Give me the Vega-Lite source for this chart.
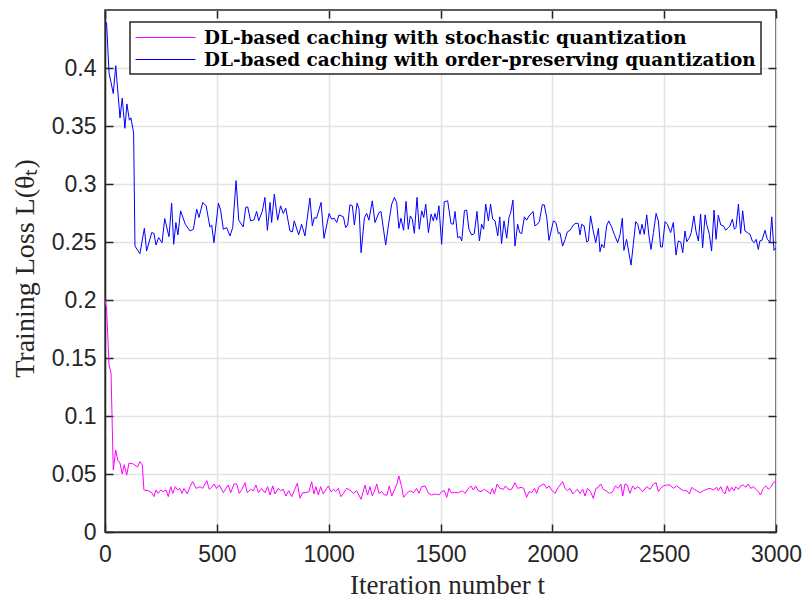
{
  "$schema": "https://vega.github.io/schema/vega-lite/v6.json",
  "width": 671,
  "height": 522,
  "autosize": {"type": "none"},
  "padding": {"left": 105, "top": 10, "right": 28, "bottom": 68},
  "background": "white",
  "config": {
    "view": {"stroke": "#262626", "strokeWidth": 1.5},
    "axis": {
      "labelFont": "Liberation Sans",
      "labelFontSize": 23,
      "labelColor": "#262626",
      "labelFlush": false,
      "titleFont": "Liberation Serif",
      "titleFontSize": 28,
      "titleFontWeight": "normal",
      "titleColor": "#262626",
      "domainColor": "#262626",
      "domainWidth": 1.5,
      "tickColor": "#262626",
      "tickWidth": 1.5,
      "tickSize": -8,
      "gridColor": "#e3e3e3",
      "gridWidth": 1.5,
      "gridOpacity": 1
    }
  },
  "datasets": {
    "stochastic": [
      {"iteration": 0, "loss": 0.2}, {"iteration": 7, "loss": 0.193}, {"iteration": 18, "loss": 0.144}, {"iteration": 27, "loss": 0.137},
      {"iteration": 37, "loss": 0.0534}, {"iteration": 48, "loss": 0.0707}, {"iteration": 57, "loss": 0.062}, {"iteration": 67, "loss": 0.0594},
      {"iteration": 77, "loss": 0.05}, {"iteration": 86, "loss": 0.058}, {"iteration": 97, "loss": 0.049}, {"iteration": 107, "loss": 0.0594},
      {"iteration": 127, "loss": 0.0586}, {"iteration": 146, "loss": 0.056}, {"iteration": 156, "loss": 0.0606}, {"iteration": 167, "loss": 0.0578},
      {"iteration": 174, "loss": 0.0362}, {"iteration": 194, "loss": 0.0356}, {"iteration": 209, "loss": 0.0339}, {"iteration": 219, "loss": 0.0305},
      {"iteration": 228, "loss": 0.0362}, {"iteration": 238, "loss": 0.0333}, {"iteration": 249, "loss": 0.0362}, {"iteration": 261, "loss": 0.0348},
      {"iteration": 273, "loss": 0.0362}, {"iteration": 283, "loss": 0.0305}, {"iteration": 294, "loss": 0.0391}, {"iteration": 303, "loss": 0.0333},
      {"iteration": 314, "loss": 0.0391}, {"iteration": 325, "loss": 0.0362}, {"iteration": 335, "loss": 0.0376}, {"iteration": 344, "loss": 0.0333},
      {"iteration": 353, "loss": 0.0376}, {"iteration": 368, "loss": 0.0328}, {"iteration": 380, "loss": 0.0391}, {"iteration": 392, "loss": 0.0434},
      {"iteration": 407, "loss": 0.0376}, {"iteration": 425, "loss": 0.0391}, {"iteration": 437, "loss": 0.0376}, {"iteration": 455, "loss": 0.0443},
      {"iteration": 466, "loss": 0.0368}, {"iteration": 477, "loss": 0.0385}, {"iteration": 487, "loss": 0.0414}, {"iteration": 499, "loss": 0.0376},
      {"iteration": 511, "loss": 0.0405}, {"iteration": 529, "loss": 0.0339}, {"iteration": 541, "loss": 0.0376}, {"iteration": 551, "loss": 0.0405},
      {"iteration": 562, "loss": 0.0339}, {"iteration": 577, "loss": 0.0414}, {"iteration": 589, "loss": 0.0414}, {"iteration": 600, "loss": 0.0333},
      {"iteration": 612, "loss": 0.0368}, {"iteration": 626, "loss": 0.0425}, {"iteration": 636, "loss": 0.0339}, {"iteration": 651, "loss": 0.0368},
      {"iteration": 663, "loss": 0.0356}, {"iteration": 675, "loss": 0.0405}, {"iteration": 686, "loss": 0.0339}, {"iteration": 700, "loss": 0.0376},
      {"iteration": 715, "loss": 0.0339}, {"iteration": 727, "loss": 0.0391}, {"iteration": 738, "loss": 0.0319}, {"iteration": 750, "loss": 0.0397},
      {"iteration": 760, "loss": 0.0328}, {"iteration": 775, "loss": 0.0376}, {"iteration": 785, "loss": 0.0356}, {"iteration": 797, "loss": 0.0368},
      {"iteration": 809, "loss": 0.031}, {"iteration": 821, "loss": 0.0356}, {"iteration": 835, "loss": 0.0305}, {"iteration": 846, "loss": 0.0356},
      {"iteration": 860, "loss": 0.042}, {"iteration": 872, "loss": 0.0291}, {"iteration": 884, "loss": 0.0339}, {"iteration": 899, "loss": 0.0339},
      {"iteration": 912, "loss": 0.0348}, {"iteration": 924, "loss": 0.0434}, {"iteration": 934, "loss": 0.0328}, {"iteration": 943, "loss": 0.0391},
      {"iteration": 954, "loss": 0.0319}, {"iteration": 964, "loss": 0.0391}, {"iteration": 976, "loss": 0.0328}, {"iteration": 991, "loss": 0.0376},
      {"iteration": 999, "loss": 0.0397}, {"iteration": 1010, "loss": 0.0348}, {"iteration": 1021, "loss": 0.0368}, {"iteration": 1031, "loss": 0.0348},
      {"iteration": 1043, "loss": 0.0376}, {"iteration": 1055, "loss": 0.0305}, {"iteration": 1066, "loss": 0.0333}, {"iteration": 1080, "loss": 0.0376},
      {"iteration": 1095, "loss": 0.0362}, {"iteration": 1110, "loss": 0.0333}, {"iteration": 1125, "loss": 0.0356}, {"iteration": 1145, "loss": 0.0282},
      {"iteration": 1162, "loss": 0.0405}, {"iteration": 1174, "loss": 0.0319}, {"iteration": 1185, "loss": 0.0391}, {"iteration": 1195, "loss": 0.031},
      {"iteration": 1204, "loss": 0.0348}, {"iteration": 1215, "loss": 0.0414}, {"iteration": 1225, "loss": 0.0333}, {"iteration": 1237, "loss": 0.0348},
      {"iteration": 1249, "loss": 0.0319}, {"iteration": 1261, "loss": 0.0319}, {"iteration": 1271, "loss": 0.0397}, {"iteration": 1282, "loss": 0.031},
      {"iteration": 1297, "loss": 0.0376}, {"iteration": 1306, "loss": 0.042}, {"iteration": 1314, "loss": 0.0483}, {"iteration": 1326, "loss": 0.0391},
      {"iteration": 1335, "loss": 0.0299}, {"iteration": 1349, "loss": 0.0333}, {"iteration": 1364, "loss": 0.0356}, {"iteration": 1379, "loss": 0.0339},
      {"iteration": 1393, "loss": 0.0376}, {"iteration": 1404, "loss": 0.0333}, {"iteration": 1416, "loss": 0.0391}, {"iteration": 1431, "loss": 0.0397},
      {"iteration": 1446, "loss": 0.0333}, {"iteration": 1460, "loss": 0.0319}, {"iteration": 1478, "loss": 0.0328}, {"iteration": 1493, "loss": 0.0319},
      {"iteration": 1505, "loss": 0.0348}, {"iteration": 1517, "loss": 0.0356}, {"iteration": 1528, "loss": 0.0299}, {"iteration": 1538, "loss": 0.0376},
      {"iteration": 1547, "loss": 0.0339}, {"iteration": 1562, "loss": 0.0339}, {"iteration": 1580, "loss": 0.0339}, {"iteration": 1598, "loss": 0.0356},
      {"iteration": 1610, "loss": 0.0333}, {"iteration": 1624, "loss": 0.0376}, {"iteration": 1636, "loss": 0.0397}, {"iteration": 1647, "loss": 0.0362},
      {"iteration": 1657, "loss": 0.0397}, {"iteration": 1669, "loss": 0.0356}, {"iteration": 1681, "loss": 0.0348}, {"iteration": 1696, "loss": 0.0368},
      {"iteration": 1711, "loss": 0.0348}, {"iteration": 1723, "loss": 0.0328}, {"iteration": 1732, "loss": 0.0376}, {"iteration": 1741, "loss": 0.0328},
      {"iteration": 1753, "loss": 0.0414}, {"iteration": 1766, "loss": 0.0376}, {"iteration": 1781, "loss": 0.0368}, {"iteration": 1791, "loss": 0.0397},
      {"iteration": 1803, "loss": 0.0368}, {"iteration": 1818, "loss": 0.0368}, {"iteration": 1833, "loss": 0.0425}, {"iteration": 1845, "loss": 0.0376},
      {"iteration": 1860, "loss": 0.0385}, {"iteration": 1872, "loss": 0.0376}, {"iteration": 1885, "loss": 0.0299}, {"iteration": 1896, "loss": 0.0348},
      {"iteration": 1908, "loss": 0.0339}, {"iteration": 1920, "loss": 0.0376}, {"iteration": 1930, "loss": 0.0333}, {"iteration": 1940, "loss": 0.0391},
      {"iteration": 1952, "loss": 0.0405}, {"iteration": 1963, "loss": 0.0414}, {"iteration": 1975, "loss": 0.0376}, {"iteration": 1985, "loss": 0.0397},
      {"iteration": 1997, "loss": 0.0362}, {"iteration": 2012, "loss": 0.0333}, {"iteration": 2027, "loss": 0.0385}, {"iteration": 2046, "loss": 0.0434},
      {"iteration": 2057, "loss": 0.0376}, {"iteration": 2067, "loss": 0.0356}, {"iteration": 2079, "loss": 0.0376}, {"iteration": 2091, "loss": 0.0328},
      {"iteration": 2101, "loss": 0.0348}, {"iteration": 2112, "loss": 0.0368}, {"iteration": 2124, "loss": 0.0333}, {"iteration": 2136, "loss": 0.0368},
      {"iteration": 2146, "loss": 0.031}, {"iteration": 2157, "loss": 0.0376}, {"iteration": 2171, "loss": 0.0348}, {"iteration": 2183, "loss": 0.029},
      {"iteration": 2195, "loss": 0.0376}, {"iteration": 2206, "loss": 0.0385}, {"iteration": 2216, "loss": 0.0414}, {"iteration": 2228, "loss": 0.0368},
      {"iteration": 2240, "loss": 0.0356}, {"iteration": 2255, "loss": 0.0333}, {"iteration": 2270, "loss": 0.0348}, {"iteration": 2282, "loss": 0.0397},
      {"iteration": 2295, "loss": 0.0376}, {"iteration": 2306, "loss": 0.0414}, {"iteration": 2315, "loss": 0.031}, {"iteration": 2325, "loss": 0.0414},
      {"iteration": 2335, "loss": 0.0405}, {"iteration": 2347, "loss": 0.0333}, {"iteration": 2359, "loss": 0.0397}, {"iteration": 2370, "loss": 0.0368},
      {"iteration": 2380, "loss": 0.0391}, {"iteration": 2392, "loss": 0.0376}, {"iteration": 2404, "loss": 0.0348}, {"iteration": 2422, "loss": 0.0391},
      {"iteration": 2437, "loss": 0.0368}, {"iteration": 2452, "loss": 0.0414}, {"iteration": 2464, "loss": 0.0425}, {"iteration": 2474, "loss": 0.0348},
      {"iteration": 2484, "loss": 0.0376}, {"iteration": 2496, "loss": 0.0397}, {"iteration": 2511, "loss": 0.0405}, {"iteration": 2526, "loss": 0.0405},
      {"iteration": 2541, "loss": 0.0376}, {"iteration": 2556, "loss": 0.0397}, {"iteration": 2571, "loss": 0.0376}, {"iteration": 2586, "loss": 0.0356},
      {"iteration": 2601, "loss": 0.0356}, {"iteration": 2613, "loss": 0.0328}, {"iteration": 2623, "loss": 0.0385}, {"iteration": 2633, "loss": 0.0368},
      {"iteration": 2645, "loss": 0.0356}, {"iteration": 2660, "loss": 0.0339}, {"iteration": 2675, "loss": 0.0356}, {"iteration": 2690, "loss": 0.0368},
      {"iteration": 2705, "loss": 0.0376}, {"iteration": 2720, "loss": 0.0362}, {"iteration": 2735, "loss": 0.0385}, {"iteration": 2742, "loss": 0.0356},
      {"iteration": 2753, "loss": 0.0391}, {"iteration": 2762, "loss": 0.0348}, {"iteration": 2772, "loss": 0.0328}, {"iteration": 2782, "loss": 0.0397},
      {"iteration": 2791, "loss": 0.0348}, {"iteration": 2802, "loss": 0.0385}, {"iteration": 2812, "loss": 0.0356}, {"iteration": 2821, "loss": 0.0391},
      {"iteration": 2832, "loss": 0.0368}, {"iteration": 2842, "loss": 0.0397}, {"iteration": 2854, "loss": 0.0405}, {"iteration": 2866, "loss": 0.0385},
      {"iteration": 2876, "loss": 0.0414}, {"iteration": 2887, "loss": 0.0376}, {"iteration": 2899, "loss": 0.0391}, {"iteration": 2911, "loss": 0.0368},
      {"iteration": 2921, "loss": 0.0348}, {"iteration": 2931, "loss": 0.0319}, {"iteration": 2943, "loss": 0.0376}, {"iteration": 2955, "loss": 0.0397},
      {"iteration": 2966, "loss": 0.0368}, {"iteration": 2976, "loss": 0.0385}, {"iteration": 2988, "loss": 0.0425}, {"iteration": 2996, "loss": 0.0434},
      {"iteration": 3000, "loss": 0.044}
    ],
    "orderPreserving": [
      {"iteration": 0, "loss": 0.44}, {"iteration": 7, "loss": 0.439}, {"iteration": 18, "loss": 0.396}, {"iteration": 37, "loss": 0.378},
      {"iteration": 48, "loss": 0.402}, {"iteration": 67, "loss": 0.357}, {"iteration": 77, "loss": 0.374}, {"iteration": 89, "loss": 0.348},
      {"iteration": 98, "loss": 0.369}, {"iteration": 109, "loss": 0.355}, {"iteration": 116, "loss": 0.357}, {"iteration": 128, "loss": 0.344},
      {"iteration": 134, "loss": 0.2465}, {"iteration": 156, "loss": 0.2399}, {"iteration": 176, "loss": 0.2618}, {"iteration": 186, "loss": 0.2422},
      {"iteration": 209, "loss": 0.2581}, {"iteration": 219, "loss": 0.2575}, {"iteration": 228, "loss": 0.2474}, {"iteration": 240, "loss": 0.2538},
      {"iteration": 255, "loss": 0.2494}, {"iteration": 267, "loss": 0.2702}, {"iteration": 286, "loss": 0.2546}, {"iteration": 298, "loss": 0.2835},
      {"iteration": 307, "loss": 0.248}, {"iteration": 317, "loss": 0.2668}, {"iteration": 326, "loss": 0.2561}, {"iteration": 338, "loss": 0.2769},
      {"iteration": 359, "loss": 0.2653}, {"iteration": 380, "loss": 0.2595}, {"iteration": 395, "loss": 0.261}, {"iteration": 410, "loss": 0.2783},
      {"iteration": 420, "loss": 0.2711}, {"iteration": 437, "loss": 0.2841}, {"iteration": 452, "loss": 0.2812}, {"iteration": 469, "loss": 0.263},
      {"iteration": 477, "loss": 0.2645}, {"iteration": 487, "loss": 0.2494}, {"iteration": 507, "loss": 0.2835}, {"iteration": 517, "loss": 0.2775},
      {"iteration": 529, "loss": 0.261}, {"iteration": 544, "loss": 0.2624}, {"iteration": 559, "loss": 0.2552}, {"iteration": 571, "loss": 0.2624},
      {"iteration": 586, "loss": 0.3029}, {"iteration": 598, "loss": 0.2688}, {"iteration": 618, "loss": 0.263}, {"iteration": 629, "loss": 0.2798},
      {"iteration": 638, "loss": 0.2803}, {"iteration": 651, "loss": 0.2682}, {"iteration": 666, "loss": 0.2691}, {"iteration": 678, "loss": 0.2763},
      {"iteration": 687, "loss": 0.2682}, {"iteration": 703, "loss": 0.2763}, {"iteration": 715, "loss": 0.2884}, {"iteration": 726, "loss": 0.2601},
      {"iteration": 738, "loss": 0.2841}, {"iteration": 745, "loss": 0.2668}, {"iteration": 757, "loss": 0.2913}, {"iteration": 772, "loss": 0.2688},
      {"iteration": 785, "loss": 0.2812}, {"iteration": 797, "loss": 0.2746}, {"iteration": 808, "loss": 0.2792}, {"iteration": 827, "loss": 0.2595},
      {"iteration": 838, "loss": 0.2587}, {"iteration": 846, "loss": 0.2682}, {"iteration": 866, "loss": 0.2561}, {"iteration": 879, "loss": 0.2653},
      {"iteration": 894, "loss": 0.2552}, {"iteration": 916, "loss": 0.2879}, {"iteration": 927, "loss": 0.2639}, {"iteration": 936, "loss": 0.2711},
      {"iteration": 946, "loss": 0.2705}, {"iteration": 966, "loss": 0.2841}, {"iteration": 979, "loss": 0.2532}, {"iteration": 1002, "loss": 0.2746},
      {"iteration": 1013, "loss": 0.2697}, {"iteration": 1025, "loss": 0.2705}, {"iteration": 1036, "loss": 0.2668}, {"iteration": 1046, "loss": 0.2734},
      {"iteration": 1066, "loss": 0.2717}, {"iteration": 1076, "loss": 0.2624}, {"iteration": 1085, "loss": 0.2647}, {"iteration": 1095, "loss": 0.2821},
      {"iteration": 1106, "loss": 0.2812}, {"iteration": 1115, "loss": 0.2647}, {"iteration": 1127, "loss": 0.2835}, {"iteration": 1136, "loss": 0.2783},
      {"iteration": 1145, "loss": 0.2408}, {"iteration": 1160, "loss": 0.2711}, {"iteration": 1170, "loss": 0.2746}, {"iteration": 1180, "loss": 0.2688},
      {"iteration": 1195, "loss": 0.2855}, {"iteration": 1207, "loss": 0.2668}, {"iteration": 1225, "loss": 0.2754}, {"iteration": 1234, "loss": 0.2763},
      {"iteration": 1255, "loss": 0.2474}, {"iteration": 1270, "loss": 0.2682}, {"iteration": 1282, "loss": 0.2827}, {"iteration": 1294, "loss": 0.2884},
      {"iteration": 1304, "loss": 0.2841}, {"iteration": 1314, "loss": 0.2618}, {"iteration": 1323, "loss": 0.2705}, {"iteration": 1335, "loss": 0.2601},
      {"iteration": 1346, "loss": 0.285}, {"iteration": 1356, "loss": 0.261}, {"iteration": 1365, "loss": 0.2725}, {"iteration": 1374, "loss": 0.2697},
      {"iteration": 1383, "loss": 0.2575}, {"iteration": 1395, "loss": 0.2884}, {"iteration": 1405, "loss": 0.261}, {"iteration": 1416, "loss": 0.2769},
      {"iteration": 1425, "loss": 0.2711}, {"iteration": 1434, "loss": 0.2827}, {"iteration": 1446, "loss": 0.2581}, {"iteration": 1458, "loss": 0.274},
      {"iteration": 1468, "loss": 0.2682}, {"iteration": 1475, "loss": 0.2746}, {"iteration": 1483, "loss": 0.2688}, {"iteration": 1493, "loss": 0.2812},
      {"iteration": 1505, "loss": 0.248}, {"iteration": 1517, "loss": 0.2847}, {"iteration": 1532, "loss": 0.2855}, {"iteration": 1547, "loss": 0.2659},
      {"iteration": 1557, "loss": 0.2653}, {"iteration": 1565, "loss": 0.2763}, {"iteration": 1577, "loss": 0.2538}, {"iteration": 1587, "loss": 0.2546},
      {"iteration": 1595, "loss": 0.2509}, {"iteration": 1607, "loss": 0.2769}, {"iteration": 1617, "loss": 0.2775}, {"iteration": 1627, "loss": 0.261},
      {"iteration": 1639, "loss": 0.2561}, {"iteration": 1651, "loss": 0.2572}, {"iteration": 1663, "loss": 0.2763}, {"iteration": 1674, "loss": 0.2509},
      {"iteration": 1684, "loss": 0.2653}, {"iteration": 1693, "loss": 0.261}, {"iteration": 1702, "loss": 0.2827}, {"iteration": 1714, "loss": 0.2682},
      {"iteration": 1724, "loss": 0.2827}, {"iteration": 1733, "loss": 0.2697}, {"iteration": 1744, "loss": 0.2682}, {"iteration": 1756, "loss": 0.2552},
      {"iteration": 1765, "loss": 0.2717}, {"iteration": 1773, "loss": 0.2486}, {"iteration": 1784, "loss": 0.2682}, {"iteration": 1796, "loss": 0.2532},
      {"iteration": 1806, "loss": 0.2711}, {"iteration": 1814, "loss": 0.2754}, {"iteration": 1824, "loss": 0.2861}, {"iteration": 1833, "loss": 0.2465},
      {"iteration": 1845, "loss": 0.2653}, {"iteration": 1854, "loss": 0.2581}, {"iteration": 1863, "loss": 0.2572}, {"iteration": 1875, "loss": 0.2717},
      {"iteration": 1885, "loss": 0.2688}, {"iteration": 1896, "loss": 0.2725}, {"iteration": 1914, "loss": 0.2763}, {"iteration": 1922, "loss": 0.2639},
      {"iteration": 1933, "loss": 0.2653}, {"iteration": 1942, "loss": 0.2676}, {"iteration": 1955, "loss": 0.2821}, {"iteration": 1964, "loss": 0.2821},
      {"iteration": 1975, "loss": 0.2711}, {"iteration": 1985, "loss": 0.2514}, {"iteration": 2005, "loss": 0.2682}, {"iteration": 2016, "loss": 0.2668},
      {"iteration": 2027, "loss": 0.2572}, {"iteration": 2034, "loss": 0.2581}, {"iteration": 2046, "loss": 0.2465}, {"iteration": 2057, "loss": 0.2523},
      {"iteration": 2067, "loss": 0.2587}, {"iteration": 2079, "loss": 0.2601}, {"iteration": 2094, "loss": 0.2647}, {"iteration": 2106, "loss": 0.2662},
      {"iteration": 2116, "loss": 0.2659}, {"iteration": 2124, "loss": 0.2561}, {"iteration": 2131, "loss": 0.2653}, {"iteration": 2142, "loss": 0.2639},
      {"iteration": 2154, "loss": 0.25}, {"iteration": 2161, "loss": 0.2509}, {"iteration": 2171, "loss": 0.2725}, {"iteration": 2183, "loss": 0.2595},
      {"iteration": 2194, "loss": 0.2494}, {"iteration": 2206, "loss": 0.2618}, {"iteration": 2213, "loss": 0.2416}, {"iteration": 2221, "loss": 0.248},
      {"iteration": 2231, "loss": 0.2451}, {"iteration": 2243, "loss": 0.2639}, {"iteration": 2252, "loss": 0.2682}, {"iteration": 2265, "loss": 0.263},
      {"iteration": 2277, "loss": 0.2566}, {"iteration": 2292, "loss": 0.2494}, {"iteration": 2303, "loss": 0.2566}, {"iteration": 2313, "loss": 0.2705},
      {"iteration": 2320, "loss": 0.2428}, {"iteration": 2332, "loss": 0.2523}, {"iteration": 2341, "loss": 0.2422}, {"iteration": 2352, "loss": 0.2301},
      {"iteration": 2362, "loss": 0.248}, {"iteration": 2373, "loss": 0.2676}, {"iteration": 2382, "loss": 0.2653}, {"iteration": 2392, "loss": 0.2566},
      {"iteration": 2401, "loss": 0.2653}, {"iteration": 2411, "loss": 0.2566}, {"iteration": 2422, "loss": 0.2734}, {"iteration": 2432, "loss": 0.2552},
      {"iteration": 2441, "loss": 0.2436}, {"iteration": 2452, "loss": 0.2581}, {"iteration": 2464, "loss": 0.2746}, {"iteration": 2474, "loss": 0.2682},
      {"iteration": 2484, "loss": 0.2457}, {"iteration": 2492, "loss": 0.2457}, {"iteration": 2504, "loss": 0.2676}, {"iteration": 2514, "loss": 0.2653},
      {"iteration": 2529, "loss": 0.2581}, {"iteration": 2541, "loss": 0.2668}, {"iteration": 2553, "loss": 0.2387}, {"iteration": 2563, "loss": 0.2509},
      {"iteration": 2574, "loss": 0.25}, {"iteration": 2583, "loss": 0.2408}, {"iteration": 2593, "loss": 0.2595}, {"iteration": 2601, "loss": 0.2503},
      {"iteration": 2613, "loss": 0.2538}, {"iteration": 2621, "loss": 0.2581}, {"iteration": 2633, "loss": 0.2725}, {"iteration": 2642, "loss": 0.2595},
      {"iteration": 2653, "loss": 0.2509}, {"iteration": 2663, "loss": 0.274}, {"iteration": 2672, "loss": 0.2451}, {"iteration": 2683, "loss": 0.2734},
      {"iteration": 2690, "loss": 0.2653}, {"iteration": 2702, "loss": 0.2566}, {"iteration": 2712, "loss": 0.2422}, {"iteration": 2723, "loss": 0.2775},
      {"iteration": 2732, "loss": 0.2523}, {"iteration": 2742, "loss": 0.2731}, {"iteration": 2753, "loss": 0.2647}, {"iteration": 2765, "loss": 0.2639},
      {"iteration": 2775, "loss": 0.2601}, {"iteration": 2787, "loss": 0.2624}, {"iteration": 2794, "loss": 0.2639}, {"iteration": 2805, "loss": 0.2697},
      {"iteration": 2814, "loss": 0.261}, {"iteration": 2821, "loss": 0.2624}, {"iteration": 2832, "loss": 0.2827}, {"iteration": 2842, "loss": 0.2572},
      {"iteration": 2851, "loss": 0.2769}, {"iteration": 2861, "loss": 0.2595}, {"iteration": 2872, "loss": 0.2581}, {"iteration": 2884, "loss": 0.2566},
      {"iteration": 2894, "loss": 0.2509}, {"iteration": 2902, "loss": 0.2494}, {"iteration": 2911, "loss": 0.2523}, {"iteration": 2921, "loss": 0.2436},
      {"iteration": 2928, "loss": 0.2509}, {"iteration": 2937, "loss": 0.2514}, {"iteration": 2951, "loss": 0.2601}, {"iteration": 2961, "loss": 0.2523},
      {"iteration": 2973, "loss": 0.25}, {"iteration": 2981, "loss": 0.2717}, {"iteration": 2991, "loss": 0.2428}, {"iteration": 3000, "loss": 0.245}
    ]
  },
  "layer": [
    {
      "data": {"name": "stochastic"},
      "mark": {"type": "line", "strokeWidth": 1, "clip": true},
      "encoding": {
        "x": {
          "field": "iteration", "type": "quantitative",
          "scale": {"domain": [0, 3000], "nice": false, "zero": false},
          "axis": {
            "values": [0, 500, 1000, 1500, 2000, 2500, 3000],
            "format": "d",
            "labelPadding": 19,
            "grid": true,
            "title": "Iteration number t",
            "titleFontSize": 27,
            "titleBaseline": "alphabetic",
            "titleX": 342,
            "titleY": 61,
            "titleAnchor": "middle"
          }
        },
        "y": {
          "field": "loss", "type": "quantitative",
          "scale": {"domain": [0, 0.45], "nice": false, "zero": false},
          "axis": {
            "values": [0, 0.05, 0.1, 0.15, 0.2, 0.25, 0.3, 0.35, 0.4],
            "format": "~g",
            "labelPadding": 17,
            "grid": true,
            "title": "Training Loss L(θₜ)",
            "titleBaseline": "alphabetic",
            "titleX": -72,
            "titleY": 258,
            "titleAngle": -90
          }
        },
        "color": {
          "datum": "DL-based caching with stochastic quantization",
          "type": "nominal",
          "scale": {
            "domain": ["DL-based caching with stochastic quantization", "DL-based caching with order-preserving quantization"],
            "range": ["#FF00FF", "#0000FF"]
          },
          "legend": {
            "orient": "none",
            "legendX": 25,
            "legendY": 12,
            "title": null,
            "strokeColor": "#262626",
            "fillColor": "white",
            "padding": 5,
            "symbolType": "M-3,0H3",
            "symbolSize": 400,
            "symbolStrokeWidth": 1,
            "symbolOffset": 20,
            "labelFont": "DejaVu Serif",
            "labelFontWeight": "bold",
            "labelFontSize": 18.4,
            "labelColor": "black",
            "labelLimit": 0,
            "rowPadding": 2,
            "labelOffset": 28,
            "encode": {"legend": {"update": {"strokeWidth": {"value": 1.5}}}}
          }
        }
      }
    },
    {
      "data": {"name": "orderPreserving"},
      "mark": {"type": "line", "strokeWidth": 1, "clip": true},
      "encoding": {
        "x": {"field": "iteration", "type": "quantitative", "axis": null},
        "y": {"field": "loss", "type": "quantitative", "axis": null},
        "color": {"datum": "DL-based caching with order-preserving quantization", "type": "nominal"}
      }
    },
    {
      "data": {"name": "orderPreserving"},
      "mark": {"type": "line", "strokeOpacity": 0},
      "encoding": {
        "x": {
          "field": "iteration", "type": "quantitative",
          "axis": {"orient": "top", "values": [0, 500, 1000, 1500, 2000, 2500, 3000], "labels": false, "grid": false, "domain": false, "title": null}
        },
        "y": {
          "field": "loss", "type": "quantitative",
          "axis": {"orient": "right", "values": [0, 0.05, 0.1, 0.15, 0.2, 0.25, 0.3, 0.35, 0.4], "labels": false, "grid": false, "domain": false, "title": null}
        }
      }
    }
  ],
  "resolve": {"axis": {"x": "independent", "y": "independent"}}
}
